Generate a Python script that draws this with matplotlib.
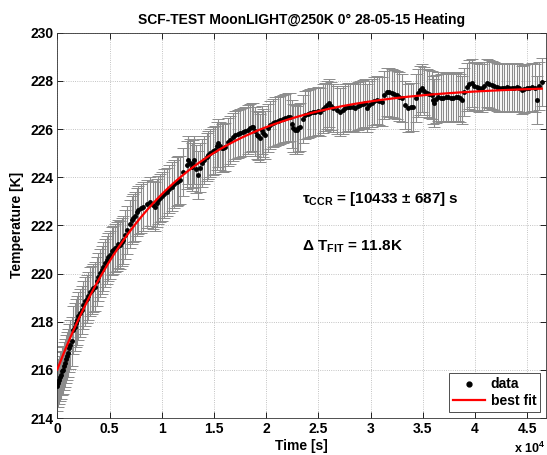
import numpy as np
import matplotlib
matplotlib.use('Agg')
import matplotlib.pyplot as plt
from matplotlib.ticker import FuncFormatter, MultipleLocator
from matplotlib.lines import Line2D

plt.rcParams['font.family'] = ['Liberation Sans', 'DejaVu Sans']
plt.rcParams['font.weight'] = 'bold'
plt.rcParams['mathtext.fontset'] = 'custom'
plt.rcParams['mathtext.rm'] = 'Liberation Sans:bold'
plt.rcParams['mathtext.it'] = 'Liberation Sans:bold'
plt.rcParams['mathtext.bf'] = 'Liberation Sans:bold'
plt.rcParams['mathtext.default'] = 'regular'

time_s = [0, 95, 190, 270, 355, 440, 520, 630, 740, 820, 900, 1020, 1150, 1260,
          1380, 1530, 1660, 1790, 1900, 2010, 2180, 2340, 2500, 2650, 2800, 2970,
          3130, 3290, 3450, 3610, 3770, 3930, 4090, 4250, 4410, 4570, 4730, 4890,
          5050, 5210, 5370, 5530, 5690, 5850, 6010, 6160, 6320, 6510, 6710, 6920,
          7130, 7290, 7450, 7600, 7760, 8000, 8240, 8560, 8880, 9120, 9360, 9520,
          9680, 9840, 10000, 10240, 10480, 10720, 10960, 11200, 11440, 11600,
          11750, 12080, 12400, 12550, 12710, 12870, 13000, 13120, 13280, 13450,
          13640, 13830, 14070, 14310, 14470, 14630, 14870, 15110, 15260, 15420,
          15590, 15750, 15910, 16070, 16300, 16540, 16780, 17020, 17260, 17500,
          17740, 17980, 18220, 18460, 18620, 18780, 18940, 19100, 19260, 19420,
          19580, 19730, 19900, 20140, 20380, 20620, 20860, 21100, 21340, 21580,
          21810, 22050, 22290, 22450, 22610, 22770, 22930, 23090, 23250, 23490,
          23730, 23970, 24210, 24450, 24690, 24930, 25170, 25410, 25650, 25860,
          26060, 26250, 26440, 26760, 27080, 27320, 27560, 27800, 28040, 28280,
          28520, 28760, 29000, 29250, 29490, 29640, 29880, 30120, 30360, 30600,
          30840, 31080, 31320, 31560, 31800, 32040, 32270, 32510, 32750, 32990,
          33310, 33630, 33870, 34110, 34350, 34590, 34750, 34910, 35150, 35390,
          35630, 35870, 36000, 36120, 36310, 36500, 36740, 36980, 37220, 37460,
          37700, 37940, 38180, 38420, 38580, 38740, 38980, 39220, 39460, 39700,
          39940, 40180, 40420, 40660, 40900, 41140, 41380, 41620, 41860, 42090,
          42330, 42570, 42810, 43050, 43290, 43530, 43770, 44010, 44250, 44490,
          44730, 44970, 45210, 45450, 45700, 45930, 46150, 46400]
temp_K = [215.31, 215.45, 215.59, 215.72, 215.80, 215.95, 216.00, 216.15, 216.28,
          216.45, 216.56, 216.70, 216.90, 217.05, 217.18, 217.66, 217.78, 217.94,
          218.05, 218.22, 218.35, 218.49, 218.70, 218.84, 218.95, 219.05, 219.25,
          219.32, 219.40, 219.46, 219.67, 219.85, 220.02, 220.15, 220.29, 220.45,
          220.57, 220.70, 220.78, 220.92, 220.98, 221.05, 221.12, 221.22, 221.19,
          221.30, 221.40, 221.62, 221.81, 222.05, 222.23, 222.30, 222.37, 222.55,
          222.64, 222.70, 222.78, 222.90, 222.99, 222.85, 222.78, 222.92, 223.06,
          223.15, 223.20, 223.32, 223.40, 223.52, 223.61, 223.70, 223.82, 223.86,
          223.89, 224.20, 224.51, 224.72, 224.60, 224.44, 224.55, 224.72, 224.35,
          224.10, 224.40, 224.58, 224.70, 224.85, 224.92, 225.00, 225.08, 225.13,
          225.30, 225.41, 225.30, 225.20, 225.22, 225.27, 225.45, 225.55, 225.66,
          225.76, 225.80, 225.83, 225.88, 225.90, 225.98, 226.03, 226.08, 226.10,
          225.90, 225.76, 225.70, 225.62, 225.96, 225.83, 225.76, 226.05, 226.17,
          226.25, 226.31, 226.35, 226.38, 226.42, 226.45, 226.48, 226.51, 226.20,
          226.03, 225.98, 225.96, 226.05, 226.10, 226.40, 226.59, 226.62, 226.66,
          226.70, 226.72, 226.75, 226.72, 226.85, 226.93, 227.00, 227.07, 226.95,
          226.86, 226.78, 226.72, 226.80, 226.86, 226.90, 226.93, 226.90, 226.86,
          226.95, 227.00, 227.04, 227.07, 226.86, 227.00, 227.07, 227.15, 227.21,
          227.18, 227.14, 227.40, 227.55, 227.52, 227.49, 227.45, 227.41, 227.35,
          227.28, 227.00, 226.86, 226.90, 226.93, 227.30, 227.49, 227.60, 227.69,
          227.58, 227.49, 227.45, 227.41, 227.20, 227.07, 227.25, 227.35, 227.30,
          227.28, 227.32, 227.35, 227.30, 227.28, 227.32, 227.35, 227.28, 227.21,
          227.55, 227.76, 227.85, 227.90, 227.80, 227.76, 227.72, 227.69, 227.80,
          227.90, 227.86, 227.83, 227.80, 227.76, 227.72, 227.69, 227.72, 227.76,
          227.72, 227.69, 227.72, 227.76, 227.70, 227.62, 227.66, 227.69, 227.72,
          227.76, 227.70, 227.21, 227.80, 227.97]
temp_err = 1.0

# fit parameters shown on the plot
tau_ccr = 10433
tau_err = 687
delta_T = 11.8

t = np.array(time_s, dtype=float)
T = np.array(temp_K)
# asymptote from least squares with fixed tau and delta T
T_inf = np.mean(T + delta_T * np.exp(-t / tau_ccr))
T_fit = T_inf - delta_T * np.exp(-t / tau_ccr)

fig = plt.figure(figsize=(5.47, 4.55), dpi=100)
ax = fig.add_axes([57.3/547, 1-418/455, (546-57.3)/547, (418-32.7)/455])

eb = ax.errorbar(t, T, yerr=temp_err, fmt='none', ecolor='#8c8c8c',
                 elinewidth=0.8, capsize=4, capthick=0.7, zorder=2)
for cl in eb[1]:
    cl.set_color('#3a3a3a')
ax.plot(t, T, '.', color='black', ms=5, zorder=3)
ax.plot(t, T_fit, '-', color='red', lw=1.6, zorder=4)

ax.set_xlim(0, 46800)
ax.set_ylim(214, 230)
ax.xaxis.set_major_locator(MultipleLocator(5000))
ax.yaxis.set_major_locator(MultipleLocator(2))
ax.xaxis.set_major_formatter(FuncFormatter(lambda v, p: '%g' % (v / 1e4)))
ax.tick_params(direction='in', length=4, width=0.6, top=True, right=True,
               labelsize=10, pad=3)
for lab in ax.get_xticklabels() + ax.get_yticklabels():
    lab.set_fontweight('bold')
ax.grid(True, linestyle=':', color='#b0b0b0', linewidth=0.6)
for sp in ax.spines.values():
    sp.set_linewidth(0.6)
    sp.set_color('#333333')

ax.set_title('SCF-TEST MoonLIGHT@250K 0° 28-05-15 Heating', fontsize=10,
             fontweight='bold', pad=6)
ax.set_xlabel('Time [s]', fontsize=10, fontweight='bold', labelpad=2)
ax.set_ylabel('Temperature [K]', fontsize=10, fontweight='bold', labelpad=4)
fig.text(514/547, 1-448/455, 'x 10$^{4}$', fontsize=9, fontweight='bold',
         ha='left', va='center')

ax.text(23400, 223.1, 'τ$_{CCR}$ = [%d ± %d] s' % (tau_ccr, tau_err),
        fontsize=11, fontweight='bold', va='center')
ax.text(23400, 221.1, 'Δ T$_{FIT}$ = %.1fK' % delta_T,
        fontsize=11, fontweight='bold', va='center')

handles = [Line2D([], [], ls='none', marker='.', color='black', ms=7),
           Line2D([], [], color='red', lw=1.6)]
leg = ax.legend(handles, ['data', 'best fit'], loc='lower right', fontsize=10,
                fancybox=False, framealpha=1, edgecolor='#333333',
                borderaxespad=0.4, handlelength=2.3, handletextpad=0.4,
                borderpad=0.3, labelspacing=0.2)
leg.get_frame().set_linewidth(0.6)
for txt in leg.get_texts():
    txt.set_fontweight('bold')

fig.savefig('out.png', dpi=100)
